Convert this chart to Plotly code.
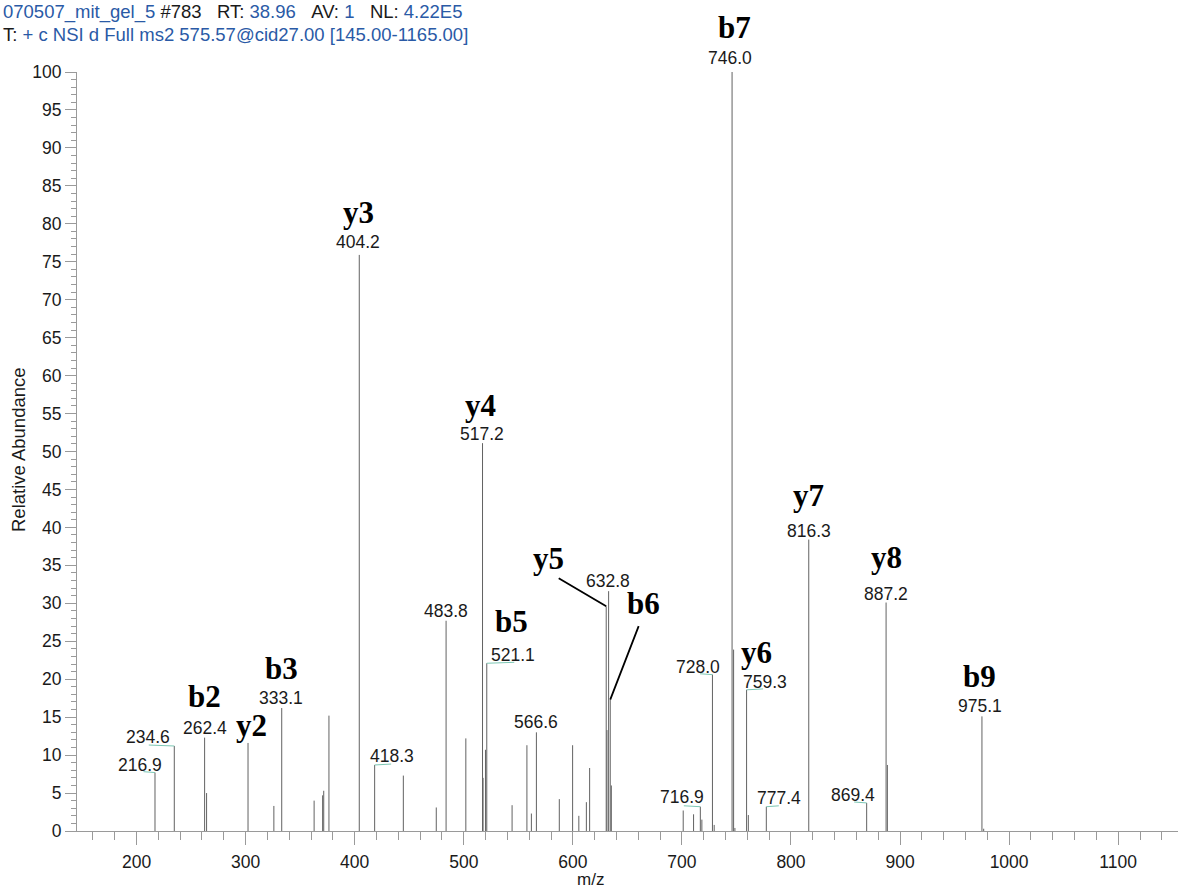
import plotly.graph_objects as go

# ---- spectrum data (m/z, relative abundance) ----
mz = [216.9, 234.6, 262.4, 264.2, 302.2, 325.9, 333.1, 362.8, 370.6, 371.6,
      376.4, 404.2, 418.3, 444.6, 474.8, 483.8, 501.9, 517.2, 517.7, 519.9,
      521.1, 544.3, 557.9, 562.0, 566.6, 587.6, 599.8, 605.5, 612.4, 615.4,
      630.6, 631.3, 632.8, 634.3, 635.3, 701.2, 710.7, 716.9, 718.3, 728.0,
      729.6, 746.0, 747.4, 748.6, 759.3, 760.9, 777.4, 816.3, 869.4, 887.2,
      888.4, 975.1, 976.7]
abundance = [7.7, 11.2, 12.3, 5.0, 11.6, 3.3, 16.2, 4.0, 4.7, 5.3,
             15.2, 75.9, 8.7, 7.3, 3.1, 27.7, 12.2, 51.1, 7.0, 10.7,
             22.1, 3.4, 11.3, 2.3, 13.0, 4.2, 11.3, 2.0, 3.8, 8.3,
             29.6, 13.3, 31.6, 17.3, 6.0, 2.7, 2.2, 3.2, 1.5, 20.6,
             0.8, 100.0, 23.9, 0.4, 18.6, 2.1, 3.2, 38.4, 3.7, 30.1,
             8.7, 15.1, 0.3]

# peaks carrying an m/z label
labelled_mz = [216.9, 234.6, 262.4, 333.1, 404.2, 418.3, 483.8, 517.2, 521.1,
               566.6, 632.8, 716.9, 728.0, 746.0, 759.3, 777.4, 816.3, 869.4,
               887.2, 975.1]

# fragment-ion assignments: ion name -> peak m/z
ion_names = ["b2", "y2", "b3", "y3", "y4", "b5", "y5", "b6", "b7", "y6",
             "y7", "y8", "b9"]
ion_mz = [262.4, 302.2, 333.1, 404.2, 517.2, 521.1, 630.6, 634.3, 746.0,
          747.4, 816.3, 887.2, 975.1]

x_ticks = [200, 300, 400, 500, 600, 700, 800, 900, 1000, 1100]

# ---- layout geometry (pixels) ----
W, H = 1179, 888
ML, MR, MT, MB = 77, 1, 72, 57
PW, PH = W - ML - MR, H - MT - MB
X0 = 145.4
X1 = X0 + PW / 1.0907


def paper_x(px):
    return (px - ML) / PW


def paper_y(py):
    return 1 - (py - MT) / PH


height_of = dict(zip(mz, abundance))

# label placement offsets in pixels: (dx, dy) of text centre from peak tip,
# and the length of the small connector drawn from the tip (0 = none)
num_style = {
    216.9: (-15, 8, -13), 234.6: (-26, 9, -27), 262.4: (0, 10, 0),
    333.1: (-1, 10, 0), 404.2: (-1, 13, 0), 418.3: (17, 9, 18),
    483.8: (0, 10, 0), 517.2: (-1, 9, 0), 521.1: (26, 8, 29),
    566.6: (0, 10, 0), 632.8: (-1, 10, 0), 716.9: (-18, 10, -18),
    728.0: (-14, 8, -14), 746.0: (-2, 14, 0), 759.3: (18, 8, 18),
    777.4: (13, 9, 14), 816.3: (0, 9, 0), 869.4: (-14, 8, -14),
    887.2: (0, 9, 0), 975.1: (-2, 10, 0),
}
ion_style = {
    "b2": (0, 41), "y2": (3, 17), "b3": (0, 40), "y3": (-1, 42),
    "y4": (-2, 38), "b5": (25, 42), "y5": (-58, 48), "b6": (33, 96),
    "b7": (2, 45), "y6": (23, -3), "y7": (0, 44), "y8": (0, 45),
    "b9": (-2, 40),
}
# leader lines for crowded assignments: (dx, dy) of the far end from the tip
leader_style = {"y5": (-49, -29), "b6": (29, -75)}

# ---- stick spectrum ----
xs, ys = [], []
for m, a in zip(mz, abundance):
    xs += [m, m, None]
    ys += [0, a, None]

fig = go.Figure(go.Scatter(
    x=xs, y=ys, mode="lines",
    line=dict(color="#626262", width=1),
    hoverinfo="skip", cliponaxis=False, showlegend=False,
))

annotations = []
SANS = "Liberation Sans, Arial, sans-serif"
NUM_FONT = dict(family=SANS, size=17.5, color="#1a1a1a")
ION_FONT = dict(family="Liberation Serif, Times New Roman, serif", size=31,
                color="#000000", weight="bold")

for m in labelled_mz:
    dx, dy, g = num_style[m]
    h = height_of[m]
    annotations.append(dict(
        x=m, y=h, xref="x", yref="y", text=f"{m:.1f}", showarrow=False,
        xshift=dx, yshift=dy, xanchor="center", yanchor="middle", font=NUM_FONT,
    ))
    if g:
        annotations.append(dict(
            x=m, y=h, xref="x", yref="y", text="", showarrow=True,
            ax=g, ay=-1, arrowhead=0, arrowwidth=1, arrowcolor="#7cc7b4",
            standoff=0, startstandoff=0,
        ))

for name, m in zip(ion_names, ion_mz):
    dx, dy = ion_style[name]
    h = height_of[m]
    annotations.append(dict(
        x=m, y=h, xref="x", yref="y", text=name, showarrow=False,
        xshift=dx, yshift=dy, xanchor="center", yanchor="middle", font=ION_FONT,
    ))
    if name in leader_style:
        lx, ly = leader_style[name]
        annotations.append(dict(
            x=m, y=h, xref="x", yref="y", text="", showarrow=True,
            ax=lx, ay=ly, arrowhead=0, arrowwidth=1.8, arrowcolor="#000000",
            standoff=0, startstandoff=0,
        ))

# scan header
BLUE = "#2a5aa6"
BLACK = "#1a1a1a"
GAP = "\u00a0\u00a0\u00a0"
HEAD_FONT = dict(family=SANS, size=18.5, color=BLUE)
line1 = (f"070507_mit_gel_5 <span style='color:{BLACK}'>#783</span>{GAP}"
         f"<span style='color:{BLACK}'>RT:</span> 38.96{GAP}"
         f"<span style='color:{BLACK}'>AV:</span> 1{GAP}"
         f"<span style='color:{BLACK}'>NL:</span> 4.22E5")
line2 = (f"<span style='color:{BLACK}'>T:</span> + c NSI d Full ms2 "
         f"575.57@cid27.00 [145.00-1165.00]")
annotations.append(dict(x=paper_x(1), y=paper_y(12), xref="paper", yref="paper",
                        text=line1, showarrow=False, xanchor="left",
                        yanchor="middle", font=HEAD_FONT))
annotations.append(dict(x=paper_x(1), y=paper_y(35), xref="paper", yref="paper",
                        text=line2, showarrow=False, xanchor="left",
                        yanchor="middle", font=HEAD_FONT))

# axis titles
TITLE_FONT = dict(family=SANS, size=18.5, color="#1a1a1a")
annotations.append(dict(x=paper_x(18), y=paper_y(450), xref="paper", yref="paper",
                        text="Relative Abundance", textangle=-90, showarrow=False,
                        xanchor="center", yanchor="middle", font=TITLE_FONT))
annotations.append(dict(x=paper_x(590), y=paper_y(879), xref="paper", yref="paper",
                        text="m/z", showarrow=False, xanchor="center",
                        yanchor="middle", font=dict(family=SANS, size=17, color="#1a1a1a")))

AXIS_GREY = "#9a9a9a"
TICK_FONT = dict(family=SANS, size=17.5, color="#1a1a1a")

fig.update_layout(
    width=W, height=H,
    margin=dict(l=ML, r=MR, t=MT, b=MB, pad=0),
    paper_bgcolor="white", plot_bgcolor="white",
    annotations=annotations,
    xaxis=dict(
        range=[X0, X1], showgrid=False, zeroline=False,
        showline=True, linecolor=AXIS_GREY, linewidth=1,
        ticks="outside", ticklen=13, tickcolor=AXIS_GREY, tickwidth=1,
        tickmode="array", tickvals=x_ticks, ticktext=[str(t) for t in x_ticks],
        tickfont=TICK_FONT, ticklabelstandoff=2,
        minor=dict(ticks="outside", ticklen=8, dtick=20, tick0=0,
                   tickcolor=AXIS_GREY, showgrid=False),
    ),
    yaxis=dict(
        range=[0, 100], showgrid=False, zeroline=False,
        showline=True, linecolor=AXIS_GREY, linewidth=1,
        ticks="outside", ticklen=11, tickcolor=AXIS_GREY, tickwidth=1,
        dtick=5, tick0=0, tickfont=TICK_FONT, ticklabelstandoff=0,
        minor=dict(ticks="outside", ticklen=5, dtick=1, tick0=0,
                   tickcolor=AXIS_GREY, showgrid=False),
    ),
)

fig.write_html("out.html")
